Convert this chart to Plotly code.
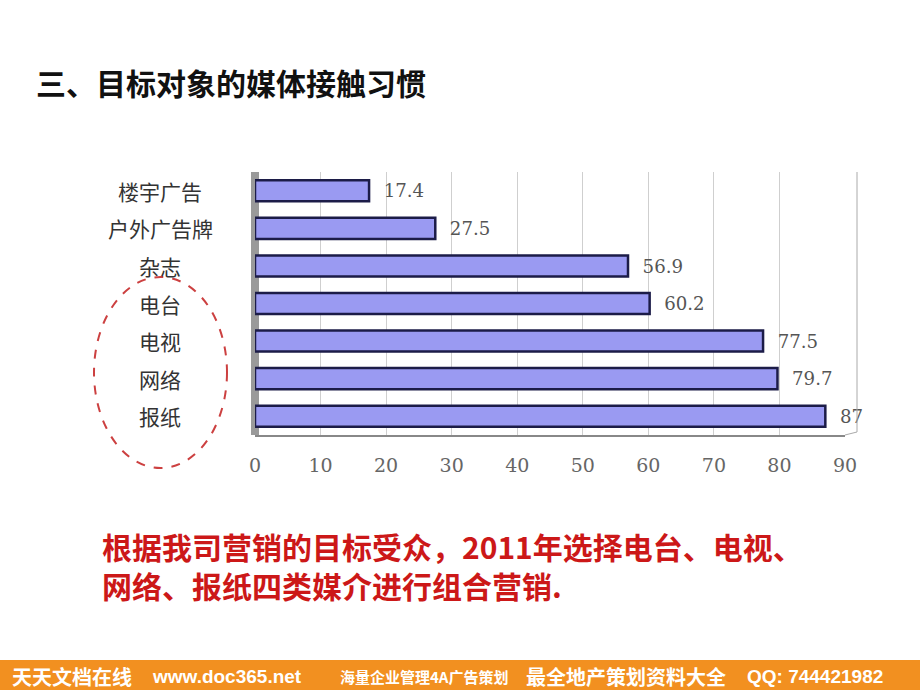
import plotly.graph_objects as go

# ---------------- data ----------------
categories = ["楼宇广告", "户外广告牌", "杂志", "电台", "电视", "网络", "报纸"]
values = [17.4, 27.5, 56.9, 60.2, 77.5, 79.7, 87]
x_ticks = [0, 10, 20, 30, 40, 50, 60, 70, 80, 90]
title_text = "三、目标对象的媒体接触习惯"
note_lines = ["根据我司营销的目标受众，2011年选择电台、电视、",
              "网络、报纸四类媒介进行组合营销."]
banner_parts = ["天天文档在线", "www.doc365.net", "海量企业管理4A广告策划",
                "最全地产策划资料大全", "QQ: 744421982"]

# ---------------- layout helpers ----------------
W, H = 920, 690
L, R, T, B = 255, 75, 172, 255
PW, PH = W - L - R, H - T - B


def px(x):
    return (x - L) / PW


def py(y):
    return (H - B - y) / PH


CJK = "Noto Sans CJK SC"
SERIF = "DejaVu Serif"

fig = go.Figure()
fig.add_trace(go.Bar(
    y=categories, x=values, orientation="h",
    marker=dict(color="#9a9af2", line=dict(color="#1c1c48", width=2.5)),
    text=values, texttemplate="  %{x}", textposition="outside",
    textfont=dict(family=SERIF, size=19, color="#555555"),
    cliponaxis=False, hoverinfo="skip",
))

annotations = []
# category labels (centered, left of the plot)
for c in categories:
    annotations.append(dict(
        x=px(160), xref="paper", y=c, yref="y", text=c, showarrow=False,
        xanchor="center", yanchor="middle",
        font=dict(family=CJK, size=21, color="#333333")))

# title
annotations.append(dict(
    x=px(34), xref="paper", y=py(82), yref="paper", text="<b>" + title_text + "</b>",
    showarrow=False, xanchor="left", yanchor="middle",
    font=dict(family=CJK, size=30, color="#111111")))

# red note (one text block, two lines)
annotations.append(dict(
    x=px(100), xref="paper", y=py(565), yref="paper",
    text="<br>".join("<b>" + ln + "</b>" for ln in note_lines),
    showarrow=False, xanchor="left", yanchor="middle", align="left",
    font=dict(family=CJK, size=30, color="#cc1818")))

# banner text
banner_x = [10, 150, 338, 524, 745]
banner_fonts = [(CJK, 20), ("Liberation Sans", 19), (CJK, 15), (CJK, 20), ("Liberation Sans", 19)]
for txt, bx, (fam, sz) in zip(banner_parts, banner_x, banner_fonts):
    annotations.append(dict(
        x=px(bx), xref="paper", y=py(676), yref="paper", text="<b>" + txt + "</b>",
        showarrow=False, xanchor="left", yanchor="middle",
        font=dict(family=fam, size=sz, color="#ffffff")))

shapes = [
    # left 3D wall
    dict(type="rect", xref="paper", yref="paper", x0=px(251), x1=px(259), y0=0, y1=1,
         fillcolor="#9a9a9a", line=dict(width=0), layer="below"),
    # right back wall edge
    dict(type="line", xref="paper", yref="paper", x0=px(857), x1=px(857), y0=py(432), y1=py(172),
         line=dict(color="#aaaaaa", width=1)),
    # floor edge
    dict(type="line", xref="paper", yref="paper", x0=px(845), x1=px(857), y0=0, y1=py(432),
         line=dict(color="#aaaaaa", width=1)),
    # dashed red ellipse
    dict(type="circle", xref="paper", yref="paper", x0=px(94), x1=px(227), y0=py(468), y1=py(277),
         line=dict(color="#cc4040", width=2, dash="dash")),
    # orange banner
    dict(type="rect", xref="paper", yref="paper", x0=px(0), x1=px(W), y0=py(H), y1=py(660),
         fillcolor="#f29020", line=dict(width=0)),
]

fig.update_layout(
    width=W, height=H,
    margin=dict(l=L, r=R, t=T, b=B),
    paper_bgcolor="white", plot_bgcolor="white",
    showlegend=False, bargap=0.44,
    annotations=annotations, shapes=shapes,
    xaxis=dict(range=[0, 90], tickvals=x_ticks, ticktext=[str(t) for t in x_ticks],
               showgrid=True, gridcolor="#cfcfcf", gridwidth=1,
               showline=True, linecolor="#888888", linewidth=1.5,
               ticks="", zeroline=False, ticklabelstandoff=12,
               tickfont=dict(family=SERIF, size=19, color="#666666")),
    yaxis=dict(categoryorder="array", categoryarray=categories, autorange="reversed",
               showticklabels=False, showgrid=False, zeroline=False, showline=False),
)

fig.write_html("out.html")
